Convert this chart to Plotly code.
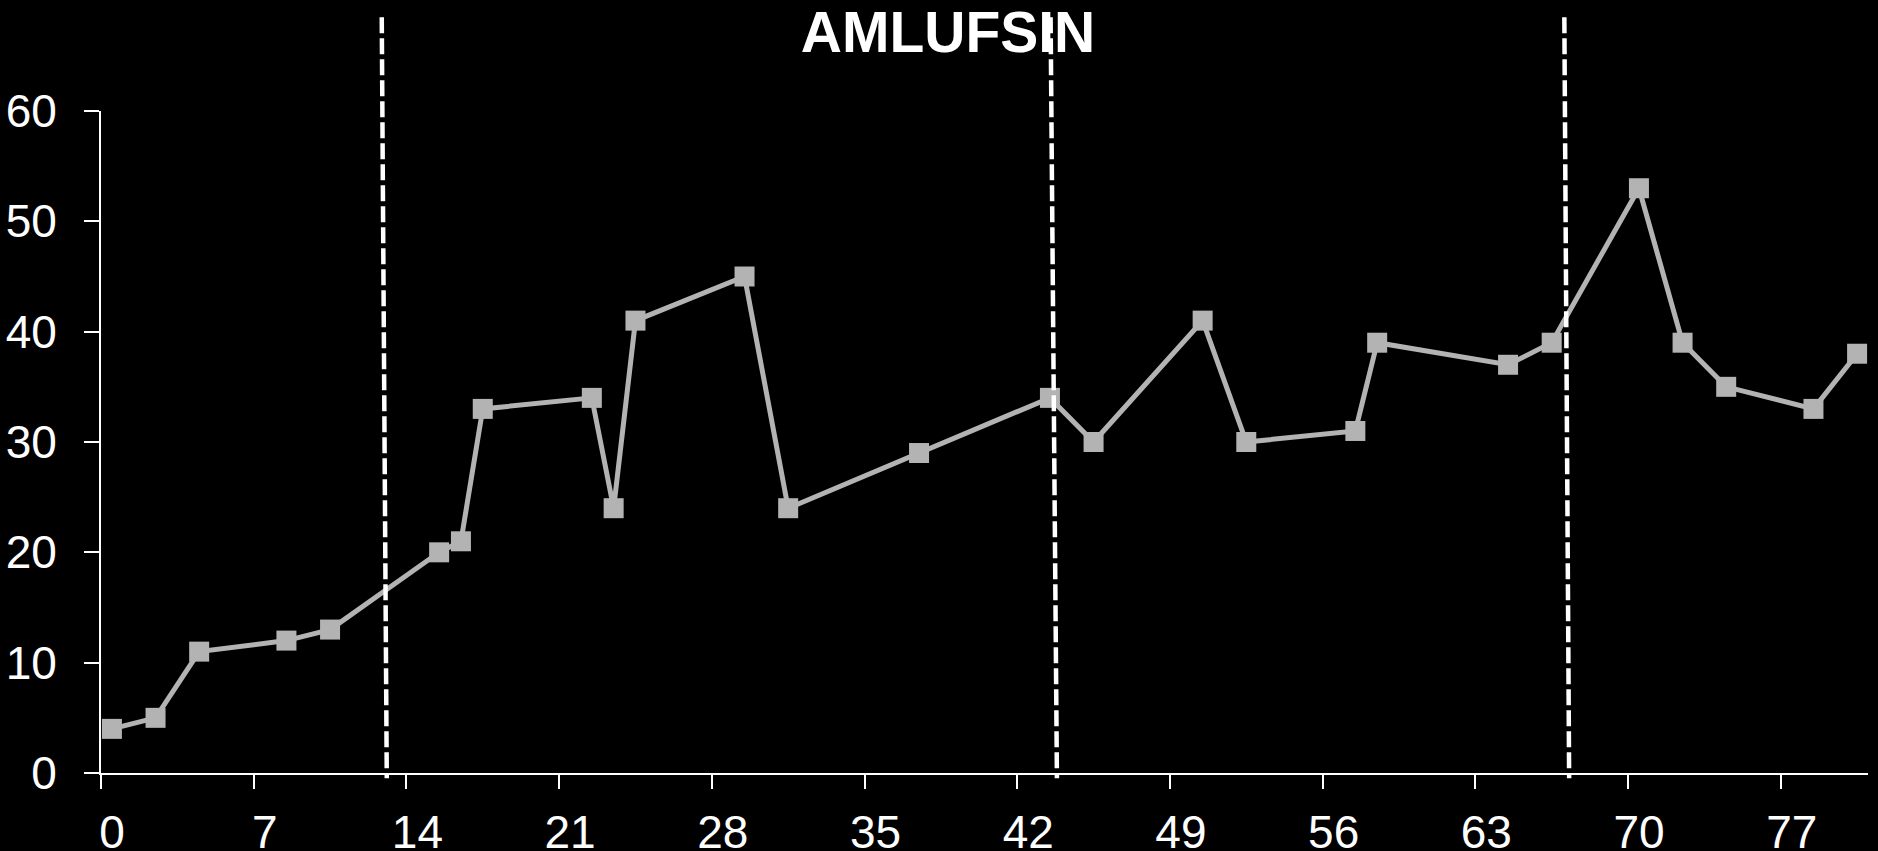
import plotly.graph_objects as go

# Data
days = [0.5, 2.5, 4.5, 8.5, 10.5, 15.5, 16.5, 17.5, 22.5, 23.5, 24.5, 29.5, 31.5,
        37.5, 43.5, 45.5, 50.5, 52.5, 57.5, 58.5, 64.5, 66.5, 70.5, 72.5, 74.5,
        78.5, 80.5]
values = [4, 5, 11, 12, 13, 20, 21, 33, 34, 24, 41, 45, 24,
          29, 34, 30, 41, 30, 31, 39, 37, 39, 53, 39, 35,
          33, 38]
x_ticks = [0, 7, 14, 21, 28, 35, 42, 49, 56, 63, 70, 77]
y_ticks = [0, 10, 20, 30, 40, 50, 60]
# dashed marker lines (slightly slanted in the original)
marker_x_top = [12.87, 43.53, 67.08]
marker_x_bottom = [13.1, 43.82, 67.3]
title_text = "AMLUFSIN"

FONT = "Arial, Liberation Sans, sans-serif"

fig = go.Figure()
fig.add_trace(go.Scatter(
    x=days, y=values, mode="lines+markers",
    line=dict(color="#b3b3b3", width=5),
    marker=dict(symbol="square", size=20, color="#b3b3b3"),
    showlegend=False, hoverinfo="skip",
))

for xt, xb in zip(marker_x_top, marker_x_bottom):
    fig.add_shape(type="line", xref="x", yref="paper",
                  x0=xt, y0=1.1415, x1=xb, y1=-0.008,
                  line=dict(color="white", width=4.5, dash="16px,5px"),
                  layer="above")

fig.update_layout(
    width=1878, height=851,
    paper_bgcolor="black", plot_bgcolor="black",
    margin=dict(l=101, r=10, t=111, b=78, autoexpand=False),
    font=dict(family=FONT, color="white", size=46),
    title=dict(text="<b>" + title_text + "</b>", x=948 / 1878, xanchor="center",
               xref="container", yref="container", y=1 - 12 / 851, yanchor="top",
               font=dict(family=FONT, size=57, color="white")),
    xaxis=dict(range=[0, 81], tickmode="array", tickvals=x_ticks,
               ticktext=[str(t) for t in x_ticks], automargin=False,
               showgrid=False, zeroline=False, showline=True,
               linecolor="white", linewidth=2, ticks="outside",
               ticklen=14, tickwidth=2, tickcolor="white",
               ticklabelshift=11, ticklabelstandoff=4,
               tickfont=dict(family=FONT, size=46, color="white")),
    yaxis=dict(range=[0, 60], tickmode="array", tickvals=y_ticks,
               automargin=False,
               showgrid=False, zeroline=False, showline=True,
               linecolor="white", linewidth=2, ticks="outside",
               ticklen=15, tickwidth=2, tickcolor="white",
               ticklabelstandoff=18,
               tickfont=dict(family=FONT, size=46, color="white")),
)

fig.write_html(
    "out.html",
    config={"displayModeBar": False},
    post_script="document.body.style.margin='0';document.body.style.background='black';",
)
